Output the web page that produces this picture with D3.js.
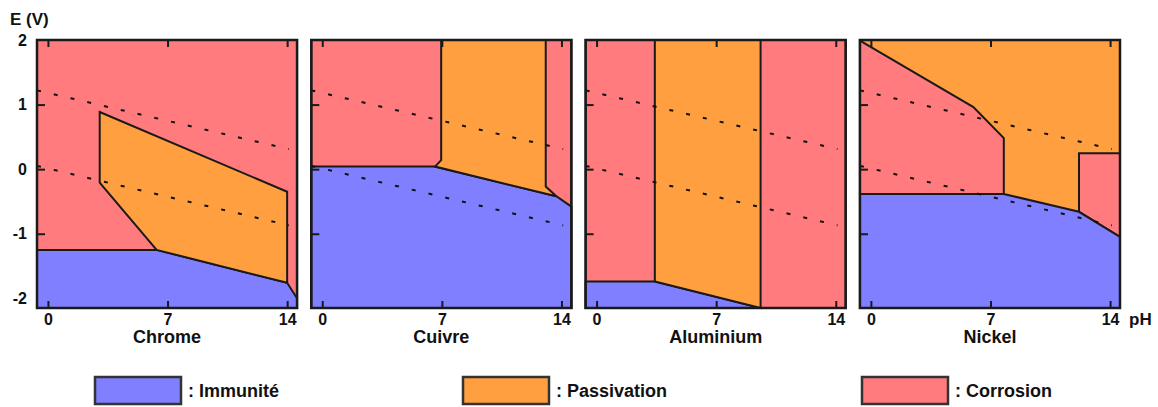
<!DOCTYPE html>
<html>
<head>
<meta charset="utf-8">
<script src="https://cdn.jsdelivr.net/npm/d3@7"></script>
<style>
  body { margin: 0; background: #fff; }
  text { font-family: "Liberation Sans", Arial, sans-serif; font-weight: bold; fill: #111; }
</style>
</head>
<body>
<div id="chart"></div>
<script>
// axis extent of every panel (pH, E in volts)
var PH_MIN = -0.64, PH_MAX = 14.58, E_MIN = -2.15, E_MAX = 2;
var frame = [[PH_MIN, E_MAX], [PH_MAX, E_MAX], [PH_MAX, E_MIN], [PH_MIN, E_MIN]];

var metals = ["Chrome", "Cuivre", "Aluminium", "Nickel"];
var states = ["Immunité", "Passivation", "Corrosion"];
var phTicks = [0, 7, 14];
var eTicks = [2, 1, 0, -1, -2];
var eInnerTicks = [1, 0, -1];

// domains, as [pH, E] vertices
var chromeCorrosion = [frame];
var chromeImmunity = [[[PH_MIN, -1.25], [6.36, -1.25], [14.0, -1.76], [14.53, -1.98], [PH_MAX, -2.0], [PH_MAX, E_MIN], [PH_MIN, E_MIN]]];
var chromePassivation = [[[3.03, 0.885], [14.0, -0.35], [14.0, -1.76], [6.36, -1.25], [3.03, -0.21]]];

var cuivreCorrosion = [frame];
var cuivreImmunity = [[[PH_MIN, 0.04], [6.6, 0.04], [13.7, -0.42], [PH_MAX, -0.58], [PH_MAX, E_MIN], [PH_MIN, E_MIN]]];
var cuivrePassivation = [[[6.96, E_MAX], [13.08, E_MAX], [13.08, -0.27], [13.7, -0.42], [6.6, 0.04], [6.96, 0.14]]];

var aluCorrosion = [frame];
var aluImmunity = [[[PH_MIN, -1.74], [3.41, -1.74], [9.6, E_MIN], [PH_MIN, E_MIN]]];
var aluPassivation = [[[3.41, E_MAX], [9.6, E_MAX], [9.6, E_MIN], [3.41, -1.74]]];

var nickelPassivation = [frame];
var nickelCorrosion = [
  [[PH_MIN, 1.99], [6.0, 0.96], [7.78, 0.48], [7.78, -0.385], [PH_MIN, -0.385]],
  [[12.18, 0.246], [PH_MAX, 0.246], [PH_MAX, -1.05], [12.18, -0.66]]
];
var nickelImmunity = [[[PH_MIN, -0.385], [7.78, -0.385], [12.18, -0.66], [PH_MAX, -1.05], [PH_MAX, E_MIN], [PH_MIN, E_MIN]]];

// water stability lines (dotted)
var waterUpper = [[PH_MIN, 1.22], [14.1, 0.31]];
var waterLower = [[PH_MIN, 0.05], [14.1, -0.87]];

var colors = { "Immunité": "#7f7fff", "Passivation": "#ff9f40", "Corrosion": "#ff7b7d" };

// background domain first, then the others on top
var panels = [
  { name: "Chrome", regions: [["Corrosion", chromeCorrosion], ["Immunité", chromeImmunity], ["Passivation", chromePassivation]] },
  { name: "Cuivre", regions: [["Corrosion", cuivreCorrosion], ["Immunité", cuivreImmunity], ["Passivation", cuivrePassivation]] },
  { name: "Aluminium", regions: [["Corrosion", aluCorrosion], ["Immunité", aluImmunity], ["Passivation", aluPassivation]] },
  { name: "Nickel", regions: [["Passivation", nickelPassivation], ["Corrosion", nickelCorrosion], ["Immunité", nickelImmunity]] }
];

var svg = d3.select("#chart").append("svg").attr("width", 1158).attr("height", 407);

var band = d3.scaleBand().domain(metals).range([37, 1120]).paddingInner(0.052);
var x = d3.scaleLinear().domain([PH_MIN, PH_MAX]).range([0, band.bandwidth()]);
var y = d3.scaleLinear().domain([E_MIN, E_MAX]).range([308, 40]);

var line = d3.line()
  .x(function (d) { return x(d[0]); })
  .y(function (d) { return y(d[1]); });

panels.forEach(function (p, i) {
  var g = svg.append("g").attr("transform", "translate(" + band(p.name) + ",0)");

  p.regions.forEach(function (r) {
    g.selectAll(null)
      .data(r[1])
      .enter()
      .append("path")
      .attr("d", function (d) { return line(d) + "Z"; })
      .attr("fill", colors[r[0]])
      .attr("stroke", "#1a1a1a")
      .attr("stroke-width", 2)
      .attr("stroke-miterlimit", 4);
  });

  g.selectAll(".water")
    .data([waterUpper, waterLower])
    .enter()
    .append("path")
    .attr("class", "water")
    .attr("d", line)
    .attr("fill", "none")
    .attr("stroke", "#111")
    .attr("stroke-width", 2)
    .attr("stroke-dasharray", "4,13.2");

  g.append("rect")
    .attr("x", 0).attr("y", y(E_MAX))
    .attr("width", band.bandwidth())
    .attr("height", y(E_MIN) - y(E_MAX))
    .attr("fill", "none")
    .attr("stroke", "#1a1a1a")
    .attr("stroke-width", 2.5);

  // ticks point inward
  var top = g.append("g").attr("transform", "translate(0," + y(E_MAX) + ")")
    .call(d3.axisTop(x).tickValues(phTicks).tickSize(-7).tickFormat(""));
  var bottom = g.append("g").attr("transform", "translate(0," + y(E_MIN) + ")")
    .call(d3.axisBottom(x).tickValues(phTicks).tickSize(-7).tickPadding(6));
  var left = g.append("g")
    .call(d3.axisLeft(y).tickValues(eInnerTicks).tickSize(-8).tickFormat(""));

  [top, bottom, left].forEach(function (a) {
    a.select(".domain").remove();
    a.selectAll("line").attr("stroke", "#1a1a1a").attr("stroke-width", 2);
  });
  bottom.selectAll("text").style("font-size", "16px").attr("fill", "#111");

  if (i == 0) {
    var labels = g.append("g")
      .call(d3.axisLeft(y).tickValues(eTicks).tickSize(0).tickPadding(10)
        .tickFormat(function (d) { return String(d); }));
    labels.select(".domain").remove();
    labels.selectAll("text").style("font-size", "16px").attr("fill", "#111");
  }

  g.append("text")
    .attr("x", band.bandwidth() / 2)
    .attr("y", 343)
    .attr("text-anchor", "middle")
    .style("font-size", "18px")
    .text(p.name);
});

svg.append("text").attr("x", 10).attr("y", 25).style("font-size", "17px").text("E (V)");
svg.append("text").attr("x", 1129).attr("y", 325).style("font-size", "17px").text("pH");

// legend
var legendX = [95, 463, 862];
var legend = svg.selectAll(".legend")
  .data(states)
  .enter()
  .append("g")
  .attr("class", "legend")
  .attr("transform", function (d, i) { return "translate(" + legendX[i] + ",377)"; });

legend.append("rect")
  .attr("width", 86)
  .attr("height", 27)
  .attr("fill", function (d) { return colors[d]; })
  .attr("stroke", "#333")
  .attr("stroke-width", 2.5);

legend.append("text")
  .attr("x", 93)
  .attr("y", 20)
  .style("font-size", "18px")
  .text(function (d) { return ": " + d; });
</script>
</body>
</html>
